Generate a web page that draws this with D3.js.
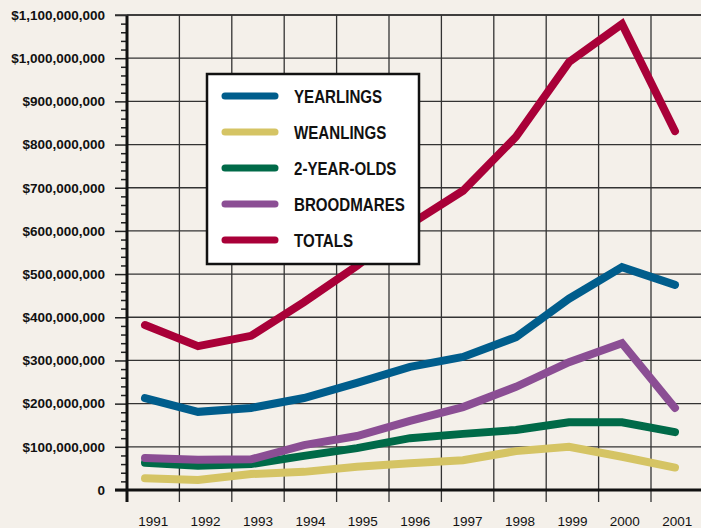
<!DOCTYPE html>
<html>
<head>
<meta charset="utf-8">
<script src="https://cdn.jsdelivr.net/npm/d3@7"></script>
<style>
  html, body { margin: 0; padding: 0; background: #f4f0ea; }
  svg { display: block; }
  .ylab { font-family: 'Liberation Sans', Arial, sans-serif; font-weight: bold; font-size: 13.5px; fill: #111; }
  .xlab { font-family: 'Liberation Sans', Arial, sans-serif; font-size: 13.5px; fill: #111; }
  .legtext { font-family: 'Liberation Sans', Arial, sans-serif; font-weight: bold; font-size: 18px; fill: #111; }
</style>
</head>
<body>
<script>
var years = [1991, 1992, 1993, 1994, 1995, 1996, 1997, 1998, 1999, 2000, 2001];

var yearlings   = [213e6, 181e6, 190e6, 213e6, 248e6, 285e6, 308e6, 354e6, 443e6, 516e6, 475e6];
var weanlings   = [27e6, 23e6, 37e6, 42e6, 54e6, 62e6, 69e6, 90e6, 100e6, 77e6, 52e6];
var twoYearOlds = [63e6, 56e6, 60e6, 79e6, 97e6, 120e6, 130e6, 139e6, 157e6, 157e6, 134e6];
var broodmares  = [74e6, 70e6, 71e6, 104e6, 125e6, 160e6, 192e6, 239e6, 296e6, 340e6, 190e6];
var totals      = [382e6, 333e6, 357e6, 435e6, 519e6, 615e6, 693e6, 818e6, 991e6, 1079e6, 831e6];

var seriesNames  = ["YEARLINGS", "WEANLINGS", "2-YEAR-OLDS", "BROODMARES", "TOTALS"];
var seriesColors = ["#005d8c", "#d5c464", "#006a48", "#8b4e94", "#a90038"];
var seriesValues = [yearlings, weanlings, twoYearOlds, broodmares, totals];
var drawOrder = [1, 2, 3, 0, 4];

var majorTicks = d3.range(0, 1.1e9 + 1, 1e8);
var minorTicks = d3.range(0, 1.1e9 + 1, 2e7).filter(function(d){ return d % 1e8 !== 0 });

var W = 701, H = 528;
var plotLeft = 127, plotTop = 15, plotBottom = 490, plotRight = 701;

var svg = d3.select('body').append('svg')
  .attr('width', W)
  .attr('height', H)

svg.append('rect')
  .attr('width', W).attr('height', H)
  .attr('fill', '#f4f0ea')

var y = d3.scaleLinear().domain([0, 1.1e9]).range([plotBottom, plotTop]);

// bands for grid columns / labels
var band = d3.scaleBand().domain(years).range([plotLeft, plotLeft + 11 * 52.4]).padding(0);
// positions of the plotted points
var x = d3.scaleLinear().domain([1991, 2001]).range([145, 675]);

var grid = svg.append('g').attr('class', 'grid');

// horizontal grid
grid.selectAll('.hgrid')
  .data(majorTicks.filter(function(d){ return d > 0 })).enter().append('line')
  .attr('class', 'hgrid')
  .attr('x1', plotLeft).attr('x2', plotRight)
  .attr('y1', function(d){ return y(d) })
  .attr('y2', function(d){ return y(d) })
  .attr('stroke', '#333')
  .attr('stroke-width', 1.3)

// vertical grid (column edges), with ticks below the axis
var edges = years.map(function(d){ return band(d) }).concat([band(2001) + band.bandwidth()]);
grid.selectAll('.vgrid')
  .data(edges.slice(1)).enter().append('line')
  .attr('class', 'vgrid')
  .attr('x1', function(d){ return d })
  .attr('x2', function(d){ return d })
  .attr('y1', plotTop).attr('y2', plotBottom + 12)
  .attr('stroke', '#333')
  .attr('stroke-width', 1.3)

// y axis: major + minor ticks
var yAxis = d3.axisLeft(y)
  .tickValues(majorTicks)
  .tickSize(12)
  .tickPadding(10)
  .tickFormat(function(d){ return d === 0 ? "0" : d3.format("$,.0f")(d) })

var yAxisG = svg.append('g')
  .attr('transform', 'translate(' + plotLeft + ',0)')
  .call(yAxis)
yAxisG.select('.domain').remove()
yAxisG.selectAll('.tick line').attr('stroke', '#222').attr('stroke-width', 1.5)
yAxisG.selectAll('.tick text').attr('class', 'ylab').attr('fill', null)
yAxisG.attr('font-size', null).attr('font-family', null)

var yMinor = svg.append('g')
  .attr('transform', 'translate(' + plotLeft + ',0)')
  .call(d3.axisLeft(y).tickValues(minorTicks).tickSize(6).tickFormat(''))
yMinor.select('.domain').remove()
yMinor.selectAll('.tick line').attr('stroke', '#222').attr('stroke-width', 1.5)

// x labels at column centres
var xAxisG = svg.append('g')
  .attr('transform', 'translate(0,' + plotBottom + ')')
  .call(d3.axisBottom(band).tickSize(0).tickPadding(26))
xAxisG.select('.domain').remove()
xAxisG.selectAll('.tick text').attr('class', 'xlab').attr('fill', null)
xAxisG.attr('font-size', null).attr('font-family', null)

// heavy axis lines
svg.append('line')
  .attr('x1', plotLeft).attr('x2', plotLeft)
  .attr('y1', plotTop).attr('y2', plotBottom + 12)
  .attr('stroke', '#111').attr('stroke-width', 3)
svg.append('line')
  .attr('x1', plotLeft - 12).attr('x2', plotRight)
  .attr('y1', plotBottom).attr('y2', plotBottom)
  .attr('stroke', '#111').attr('stroke-width', 3)
svg.append('line')
  .attr('x1', plotLeft - 12).attr('x2', plotRight)
  .attr('y1', plotTop).attr('y2', plotTop)
  .attr('stroke', '#333').attr('stroke-width', 1.3)

// series
var line = d3.line()
  .x(function(d, i){ return x(years[i]) })
  .y(function(d){ return y(d) })

svg.selectAll('.series')
  .data(drawOrder).enter().append('path')
  .attr('class', 'series')
  .attr('d', function(k){ return line(seriesValues[k]) })
  .attr('fill', 'none')
  .attr('stroke', function(k){ return seriesColors[k] })
  .attr('stroke-width', 8)
  .attr('stroke-linecap', 'round')
  .attr('stroke-linejoin', 'miter')

// legend
var legend = svg.append('g').attr('class', 'legend')
legend.append('rect')
  .attr('x', 207).attr('y', 74)
  .attr('width', 212).attr('height', 190)
  .attr('fill', '#fff')
  .attr('stroke', '#111')
  .attr('stroke-width', 2.5)

var legItems = legend.selectAll('.legItem')
  .data(seriesNames).enter().append('g')
  .attr('class', 'legItem')
  .attr('transform', function(d, i){ return 'translate(0,' + (96 + i * 36) + ')' })

legItems.append('line')
  .attr('x1', 225).attr('x2', 275)
  .attr('y1', 0).attr('y2', 0)
  .attr('stroke', function(d, i){ return seriesColors[i] })
  .attr('stroke-width', 7)
  .attr('stroke-linecap', 'round')

// condensed look: squeeze the bold face horizontally
legItems.append('text')
  .attr('class', 'legtext')
  .attr('transform', 'translate(294,6.5) scale(0.84,1)')
  .text(function(d){ return d })
</script>
</body>
</html>
